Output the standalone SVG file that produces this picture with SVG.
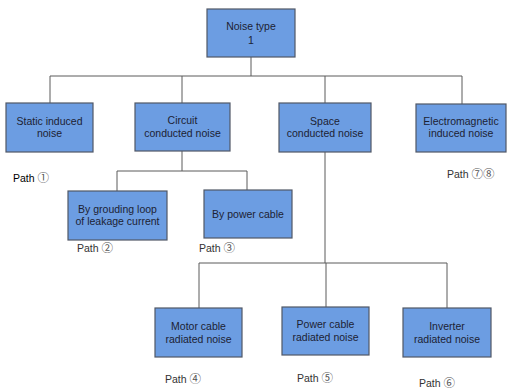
<svg xmlns="http://www.w3.org/2000/svg" width="508" height="392" viewBox="0 0 508 392">
<style>
.box{fill:#6c9de2;stroke:#505866;stroke-width:1.2}
.t{font-family:"Liberation Sans",Arial,sans-serif;font-size:10.5px;fill:#1c2233;text-anchor:middle}
.p{font-family:"Liberation Sans",Arial,sans-serif;font-size:10.5px;fill:#333}
.n{font-family:"Noto Sans CJK JP","Noto Sans CJK SC",sans-serif;font-size:11.5px;fill:#555}
.c{fill:none;stroke:#5a5a5a;stroke-width:1}
</style>
<rect width="508" height="392" fill="#fff"/>
<g id="connectors">
<path class="c" d="M251 57V76M50 76H462M50 76V103M182 76V103M325 76V103M462 76V104"/>
<path class="c" d="M182 151V171M117 171H247M117 171V191M247 171V190"/>
<path class="c" d="M325 152V263M199 263H447M199 263V308M326 263V307M447 263V308"/>
</g>
<g id="n-root"><rect class="box" x="207" y="9" width="88" height="48"/><text class="t" x="251" y="30">Noise type</text><text class="t" x="251" y="44">1</text></g>
<g id="n-static"><rect class="box" x="6" y="103" width="87" height="49"/><text class="t" x="49.5" y="125">Static induced</text><text class="t" x="49.5" y="137">noise</text></g>
<g id="n-circuit"><rect class="box" x="135" y="103" width="95" height="48"/><text class="t" x="182.5" y="124">Circuit</text><text class="t" x="182.5" y="137">conducted noise</text></g>
<g id="n-space"><rect class="box" x="279" y="103" width="92" height="49"/><text class="t" x="325" y="125">Space</text><text class="t" x="325" y="137">conducted noise</text></g>
<g id="n-em"><rect class="box" x="416" y="104" width="90" height="48"/><text class="t" x="461" y="125">Electromagnetic</text><text class="t" x="461" y="137">induced noise</text></g>
<g id="n-ground"><rect class="box" x="68" y="191" width="99" height="49"/><text class="t" x="117.5" y="213">By grouding loop</text><text class="t" x="117.5" y="225">of leakage current</text></g>
<g id="n-powercable"><rect class="box" x="204" y="190" width="88" height="48"/><text class="t" x="248" y="218">By power cable</text></g>
<g id="n-motor"><rect class="box" x="155" y="308" width="87" height="49"/><text class="t" x="198.5" y="330">Motor cable</text><text class="t" x="198.5" y="343">radiated noise</text></g>
<g id="n-powerrad"><rect class="box" x="282" y="307" width="87" height="48"/><text class="t" x="325.5" y="328">Power cable</text><text class="t" x="325.5" y="341">radiated noise</text></g>
<g id="n-inverter"><rect class="box" x="403" y="308" width="88" height="49"/><text class="t" x="447" y="330">Inverter</text><text class="t" x="447" y="343">radiated noise</text></g>
<g id="labels">
<text class="p" x="13" y="182" style="fill:#000">Path <tspan class="n">①</tspan></text>
<text class="p" x="77" y="252">Path <tspan class="n">②</tspan></text>
<text class="p" x="199" y="252">Path <tspan class="n">③</tspan></text>
<text class="p" x="447" y="178">Path <tspan class="n">⑦⑧</tspan></text>
<text class="p" x="165" y="383">Path <tspan class="n">④</tspan></text>
<text class="p" x="297" y="382">Path <tspan class="n">⑤</tspan></text>
<text class="p" x="419" y="387">Path <tspan class="n">⑥</tspan></text>
</g>
</svg>
